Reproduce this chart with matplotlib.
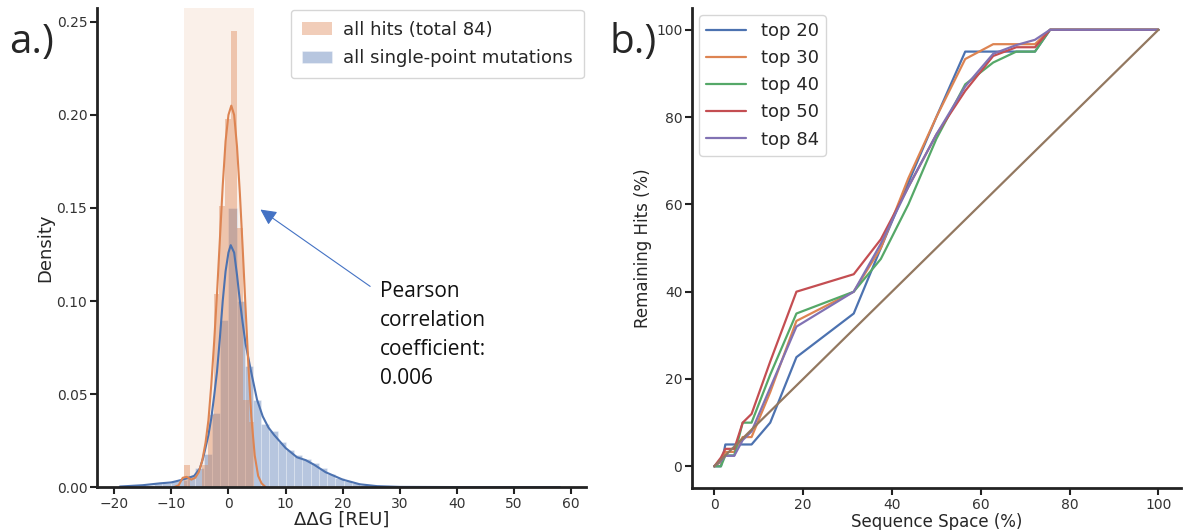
import numpy as np
import matplotlib
matplotlib.use('Agg')
import matplotlib.pyplot as plt
import seaborn as sns

# ---- data ----
# panel a: histograms (bin left edges, densities) and KDE curves
blue_bin_left = [-17.3, -15.86, -14.42, -12.98, -11.54, -10.1, -8.66, -7.22, -5.78, -4.34,
                 -2.9, -1.46, -0.02, 1.42, 2.86, 4.3, 5.74, 7.18, 8.62, 10.06,
                 11.5, 12.94, 14.38, 15.82, 17.26, 18.7, 20.14, 21.58, 23.02, 24.46]
blue_dens = [0.0005, 0.001, 0.001, 0.002, 0.002, 0.003, 0.004, 0.006, 0.010, 0.018,
             0.040, 0.090, 0.150, 0.100, 0.065, 0.047, 0.034, 0.030, 0.024, 0.020,
             0.017, 0.015, 0.013, 0.010, 0.007, 0.005, 0.003, 0.002, 0.001, 0.0005]
blue_bin_w = 1.44

hit_bin_left = [-7.7, -6.68, -5.66, -4.64, -3.62, -2.6, -1.58, -0.56, 0.46, 1.48, 2.5, 3.52]
hit_dens = [0.0117, 0.0, 0.0, 0.0117, 0.039, 0.104, 0.151, 0.198, 0.245, 0.139, 0.047, 0.035]
hit_bin_w = 1.02

blue_kde_x = [-19, -15, -12, -10, -8, -6, -5, -4.4, -3.5, -3, -2.5, -2, -1.5, -1, -0.5, 0,
              0.4, 1, 1.5, 2, 2.5, 3, 3.9, 5, 6, 7, 8, 10, 12, 13.5, 15, 17, 20, 23, 26, 30, 40, 58]
blue_kde_y = [0.0003, 0.001, 0.002, 0.0025, 0.004, 0.006, 0.010, 0.016, 0.028, 0.037, 0.049,
              0.062, 0.080, 0.100, 0.116, 0.126, 0.130, 0.126, 0.114, 0.100, 0.088, 0.077,
              0.063, 0.047, 0.038, 0.032, 0.028, 0.021, 0.016, 0.0145, 0.012, 0.008, 0.004,
              0.0015, 0.0005, 0.0001, 0.0, 0.0]
hit_kde_x = [-9.5, -8.7, -8.0, -7.3, -6.5, -5.8, -5.2, -4.6, -4.0, -3.5, -3.0, -2.5, -2.0, -1.5,
             -1.0, -0.5, 0.0, 0.5, 1.0, 1.5, 2.0, 2.5, 3.0, 3.5, 4.0, 4.6, 5.2, 5.8, 6.5]
hit_kde_y = [0.0, 0.001, 0.005, 0.0055, 0.004, 0.005, 0.008, 0.014, 0.024, 0.036, 0.055,
             0.078, 0.104, 0.133, 0.162, 0.186, 0.200, 0.205, 0.200, 0.183, 0.158, 0.128,
             0.096, 0.065, 0.038, 0.017, 0.006, 0.002, 0.0]
hit_span = [-7.7, 4.55]

# panel b: remaining hits vs sequence space
seq_space = [0, 1.5, 2.5, 4.5, 6.4, 8.4, 12.6, 18.5, 31.4, 37.5, 43.7, 50, 56.5, 62.8, 68, 72.2, 75.6, 100]
top20 = [0, 0, 5, 5, 5, 5, 10, 25, 35, 50, 65, 80, 95, 95, 95, 95, 100, 100]
top30 = [0, 1, 3.3, 3.3, 6.7, 6.7, 17, 33.3, 40, 50, 66, 80, 93.3, 96.7, 96.7, 96.7, 100, 100]
top40 = [0, 0, 2.5, 2.5, 10, 10, 21, 35, 40, 47.5, 60, 75, 87.5, 92.5, 95, 95, 100, 100]
top50 = [0, 2, 4, 4, 10, 12, 24, 40, 44, 52, 64, 76, 86, 94, 96, 96, 100, 100]
top84 = [0, 1.2, 2.4, 2.4, 6, 8, 18, 32, 40, 51, 64, 76, 87, 94.5, 96.5, 97.7, 100, 100]
random_x = [0, 100]
random_y = [0, 100]
series_names = ['top 20', 'top 30', 'top 40', 'top 50', 'top 84']

sns.set_style('ticks')
plt.rcParams['font.family'] = ['DejaVu Sans']
pal = sns.color_palette('deep')
blue, orange = pal[0], pal[1]

fig = plt.figure(figsize=(11.83, 5.30), dpi=100)
ax1 = fig.add_axes([0.082, 0.081, 0.413, 0.904])
ax2 = fig.add_axes([0.585, 0.079, 0.413, 0.906])

# ---- panel a ----
ax1.axvspan(hit_span[0], hit_span[1], color=orange, alpha=0.12, lw=0, zorder=0)
b_hist = ax1.bar(blue_bin_left, blue_dens, width=blue_bin_w, align='edge', color=blue,
                 alpha=0.4, edgecolor='white', linewidth=0.5, label='all single-point mutations')
o_hist = ax1.bar(hit_bin_left, hit_dens, width=hit_bin_w, align='edge', color=orange,
                 alpha=0.4, linewidth=0, label='all hits (total 84)')
ax1.plot(blue_kde_x, blue_kde_y, color=blue, lw=1.5)
ax1.plot(hit_kde_x, hit_kde_y, color=orange, lw=1.5)

ax1.set_xlim(-23, 62.5)
ax1.set_ylim(0, 0.2575)
ax1.set_xticks(range(-20, 61, 10))
ax1.set_yticks([0, 0.05, 0.10, 0.15, 0.20, 0.25])
ax1.yaxis.set_major_formatter(matplotlib.ticker.FormatStrFormatter('%.2f'))
ax1.set_xlabel('ΔΔG [REU]', fontsize=13, labelpad=0)
ax1.set_ylabel('Density', fontsize=13, labelpad=2)
ax1.legend(handles=[o_hist, b_hist], loc='upper right', fontsize=13, frameon=True,
           borderaxespad=0.1, handlelength=1.7, handletextpad=0.6,
           borderpad=0.6, labelspacing=0.6)

ax1.annotate('', xy=(5.2, 0.150), xytext=(25.2, 0.107),
             arrowprops=dict(arrowstyle='-|>', color='#4472c4', lw=0.8, mutation_scale=24))
ax1.text(26.5, 0.111, 'Pearson\ncorrelation\ncoefficient:\n0.006', fontsize=15,
         family='Open Sans', va='top', ha='left', linespacing=1.5, color='#111111')

# ---- panel b ----
for ys, name, c in zip([top20, top30, top40, top50, top84], series_names, pal[:5]):
    ax2.plot(seq_space, ys, color=c, lw=1.6, label=name)
ax2.plot(random_x, random_y, color=pal[5], lw=1.6)
ax2.set_xlim(-5, 105)
ax2.set_ylim(-5, 105)
ax2.set_xticks(range(0, 101, 20))
ax2.set_yticks(range(0, 101, 20))
ax2.set_xlabel('Sequence Space (%)', fontsize=12, labelpad=1)
ax2.set_ylabel('Remaining Hits (%)', fontsize=12, labelpad=3)
ax2.legend(loc='upper left', fontsize=13, borderaxespad=0.4, handlelength=2.2)

for ax in (ax1, ax2):
    sns.despine(ax=ax)
    for s in ('left', 'bottom'):
        ax.spines[s].set_linewidth(2.0)
        ax.spines[s].set_color('#222222')
    ax.tick_params(labelsize=10, width=1.5, length=5, pad=2, colors='#222222', labelcolor='#333333')

fig.text(0.008, 0.90, 'a.)', fontsize=29, family='Open Sans')
fig.text(0.515, 0.90, 'b.)', fontsize=29, family='Open Sans')

fig.savefig('out.png', dpi=100)
